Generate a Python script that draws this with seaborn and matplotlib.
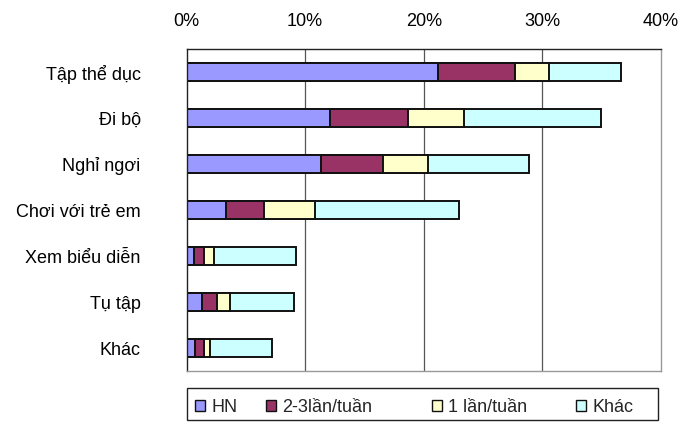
import matplotlib
matplotlib.use("Agg")
import matplotlib.pyplot as plt
import numpy as np
import pandas as pd
import seaborn as sns
from matplotlib.patches import Rectangle, Patch

# Activities and share of respondents (%) by frequency
activities = ["Tập thể dục", "Đi bộ", "Nghỉ ngơi", "Chơi với trẻ em",
              "Xem biểu diễn", "Tụ tập", "Khác"]
series_names = ["HN", "2-3lần/tuần", "1 lần/tuần", "Khác"]
hn = [21.2, 12.1, 11.3, 3.3, 0.6, 1.3, 0.7]
per_week_2_3 = [6.5, 6.6, 5.3, 3.2, 0.9, 1.3, 0.8]
per_week_1 = [2.9, 4.7, 3.8, 4.3, 0.8, 1.1, 0.5]
other = [6.0, 11.5, 8.5, 12.2, 6.9, 5.4, 5.2]
tick_values = [0, 10, 20, 30, 40]
tick_labels = ["0%", "10%", "20%", "30%", "40%"]
colors = ["#9999FF", "#993366", "#FFFFCC", "#CCFFFF"]

sns.set_theme(style="white")
plt.rcParams["font.family"] = ["Liberation Sans", "DejaVu Sans"]
FS = 13

df = pd.DataFrame({"activity": activities, "HN": hn, "2-3lần/tuần": per_week_2_3,
                   "1 lần/tuần": per_week_1, "Khác": other})
cum = df[series_names].cumsum(axis=1)

fig = plt.figure(figsize=(6.8, 4.23), dpi=100)
ax = fig.add_axes([186.5 / 680, 1 - 371.3 / 423, (661 - 186.5) / 680, (371.3 - 49.3) / 423])

# vertical gridlines behind the bars
for v in tick_values[1:-1]:
    ax.axvline(v, color="#555555", lw=0.9, zorder=0)

# stacked bars: draw cumulative totals from the outermost segment inward
for name, color in reversed(list(zip(series_names, colors))):
    sns.barplot(x=cum[name], y=df["activity"], order=activities, orient="h",
                color=color, width=0.39, edgecolor="#111111", linewidth=1.4,
                saturation=1, ax=ax, zorder=2)

ax.set_xlim(0, 40)
ax.set_ylim(len(activities) - 0.5, -0.5)
ax.set_xlabel("")
ax.set_ylabel("")
ax.xaxis.tick_top()
ax.set_xticks(tick_values)
ax.set_xticklabels(tick_labels, fontsize=FS, color="black")
ax.tick_params(axis="x", length=0, pad=14)
ax.tick_params(axis="y", length=0, pad=33, labelsize=FS, labelcolor="black")
for lab in ax.get_yticklabels():
    lab.set_horizontalalignment("right")

for side in ["top", "left"]:
    ax.spines[side].set_color("#222222")
    ax.spines[side].set_linewidth(1.0)
for side in ["right", "bottom"]:
    ax.spines[side].set_color("#999999")
    ax.spines[side].set_linewidth(1.0)

# legend box along the bottom
fig.add_artist(Rectangle((187 / 680, 1 - 420 / 423), (658 - 187) / 680, 32 / 423,
                         transform=fig.transFigure, fill=False,
                         edgecolor="#222222", lw=1.0))
legend_x = [195, 266, 432, 576]
for name, color, x in zip(series_names, colors, legend_x):
    fig.legend(handles=[Patch(facecolor=color, edgecolor="#111111", lw=1.0, label=name)],
               loc="center left", bbox_to_anchor=(x / 680, 1 - 407 / 423),
               frameon=False, fontsize=FS, handlelength=0.55, handleheight=0.55,
               handletextpad=0.35, borderpad=0, borderaxespad=0)

fig.savefig("out.png", dpi=100)
